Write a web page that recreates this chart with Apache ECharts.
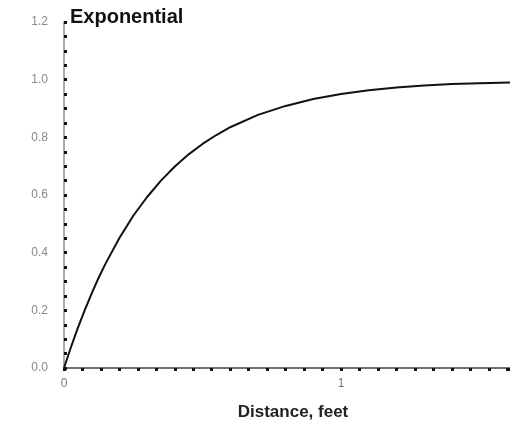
<!DOCTYPE html>
<html>
<head>
<meta charset="utf-8">
<script src="https://cdn.jsdelivr.net/npm/echarts@6/dist/echarts.min.js"></script>
<style>
  html, body { margin: 0; padding: 0; background: #fff; }
  #chart { width: 510px; height: 426px; }
</style>
</head>
<body>
<div id="chart"></div>
<script>
// Exponential model: semivariance vs. separation distance
const distance = [0, 0.025, 0.05, 0.075, 0.1, 0.125, 0.15, 0.2, 0.25, 0.3, 0.35, 0.4, 0.45, 0.5, 0.55, 0.6, 0.7, 0.8, 0.9, 1.0, 1.1, 1.2, 1.3, 1.4, 1.5, 1.61];
const gamma    = [0, 0.072, 0.139, 0.201, 0.259, 0.313, 0.362, 0.451, 0.528, 0.593, 0.650, 0.699, 0.741, 0.777, 0.808, 0.835, 0.878, 0.909, 0.933, 0.950, 0.963, 0.973, 0.980, 0.985, 0.988, 0.990];
const yTicks = ['0.0', '0.2', '0.4', '0.6', '0.8', '1.0', '1.2'];

const points = distance.map((d, i) => [d, gamma[i]]);

const chart = echarts.init(document.getElementById('chart'));
chart.setOption({
  animation: false,
  backgroundColor: '#fff',
  title: {
    text: 'Exponential',
    left: 65, top: 2,
    textStyle: { fontFamily: 'Liberation Sans', fontSize: 20, fontWeight: 'bold', color: '#111' }
  },
  grid: { left: 64, right: 0, top: 22, bottom: 58 },
  xAxis: {
    type: 'value', min: 0, max: 1.61, interval: 1,
    name: 'Distance, feet', nameLocation: 'middle', nameGap: 36,
    nameTextStyle: { fontFamily: 'Liberation Sans', fontSize: 17, fontWeight: 'bold', color: '#222', padding: [0, 0, 0, 12] },
    axisLine: { lineStyle: { color: '#444', width: 1.5 } },
    axisTick: { show: true, inside: false, length: 3, lineStyle: { color: '#111', width: 3 } },
    minorTick: { show: true, splitNumber: 15, length: 3, lineStyle: { color: '#111', width: 3 } },
    axisLabel: { margin: 10, fontFamily: 'Liberation Sans', fontSize: 12, color: '#777', showMaxLabel: false },
    splitLine: { show: false }
  },
  yAxis: {
    type: 'value', min: 0, max: 1.2, interval: 0.2,
    axisLine: { show: true, lineStyle: { color: '#aaa', width: 2 } },
    axisTick: { show: true, inside: true, length: 3, lineStyle: { color: '#111', width: 3 } },
    minorTick: { show: true, splitNumber: 4, length: 3, lineStyle: { color: '#111', width: 3 } },
    axisLabel: {
      margin: 16, fontFamily: 'Liberation Sans', fontSize: 12, color: '#888',
      formatter: v => yTicks[Math.round(v / 0.2)]
    },
    splitLine: { show: false }
  },
  series: [{
    type: 'line',
    data: points,
    smooth: false,
    symbol: 'none',
    lineStyle: { color: '#111', width: 2, join: 'round' }
  }]
});
</script>
</body>
</html>
